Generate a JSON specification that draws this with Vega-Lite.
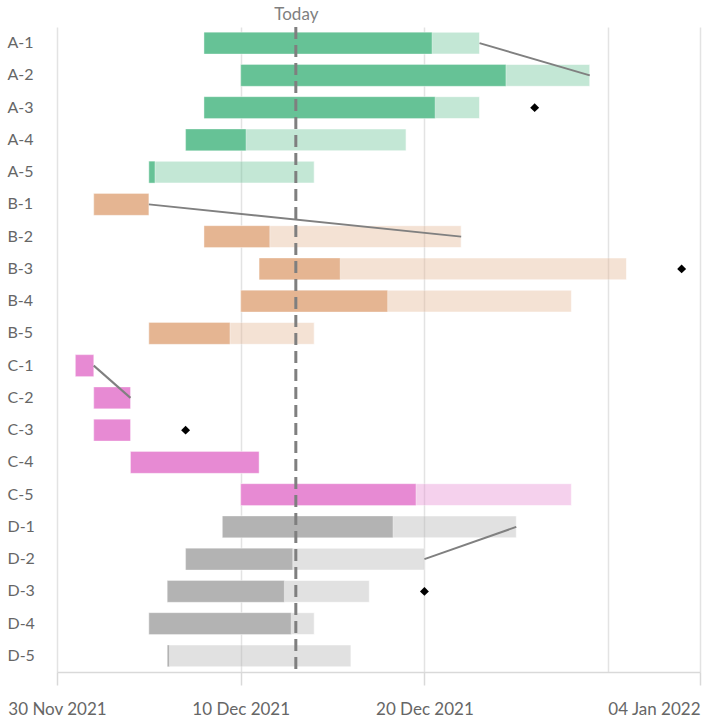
{
  "$schema": "https://vega.github.io/schema/vega-lite/v6.json",
  "autosize": {"type": "none"},
  "width": 643,
  "height": 645,
  "padding": {"left": 57, "top": 27, "right": 7, "bottom": 48},
  "background": "white",
  "config": {"font": "Lato", "view": {"stroke": null}},
  "datasets": {
    "tasks": [
      {"task": "A-1", "grp": "A", "start": "2021-12-08T00:00", "end": "2021-12-23T00:00", "prog": "2021-12-20T10:00"},
      {"task": "A-2", "grp": "A", "start": "2021-12-10T00:00", "end": "2021-12-29T00:00", "prog": "2021-12-24T10:30"},
      {"task": "A-3", "grp": "A", "start": "2021-12-08T00:00", "end": "2021-12-23T00:00", "prog": "2021-12-20T14:00"},
      {"task": "A-4", "grp": "A", "start": "2021-12-07T00:00", "end": "2021-12-19T00:00", "prog": "2021-12-10T07:00"},
      {"task": "A-5", "grp": "A", "start": "2021-12-05T00:00", "end": "2021-12-14T00:00", "prog": "2021-12-05T08:00"},
      {"task": "B-1", "grp": "B", "start": "2021-12-02T00:00", "end": "2021-12-05T00:00", "prog": "2021-12-05T00:00"},
      {"task": "B-2", "grp": "B", "start": "2021-12-08T00:00", "end": "2021-12-22T00:00", "prog": "2021-12-11T14:00"},
      {"task": "B-3", "grp": "B", "start": "2021-12-11T00:00", "end": "2021-12-31T00:00", "prog": "2021-12-15T10:00"},
      {"task": "B-4", "grp": "B", "start": "2021-12-10T00:00", "end": "2021-12-28T00:00", "prog": "2021-12-18T00:00"},
      {"task": "B-5", "grp": "B", "start": "2021-12-05T00:00", "end": "2021-12-14T00:00", "prog": "2021-12-09T10:00"},
      {"task": "C-1", "grp": "C", "start": "2021-12-01T00:00", "end": "2021-12-02T00:00", "prog": "2021-12-02T00:00"},
      {"task": "C-2", "grp": "C", "start": "2021-12-02T00:00", "end": "2021-12-04T00:00", "prog": "2021-12-04T00:00"},
      {"task": "C-3", "grp": "C", "start": "2021-12-02T00:00", "end": "2021-12-04T00:00", "prog": "2021-12-04T00:00"},
      {"task": "C-4", "grp": "C", "start": "2021-12-04T00:00", "end": "2021-12-11T00:00", "prog": "2021-12-11T00:00"},
      {"task": "C-5", "grp": "C", "start": "2021-12-10T00:00", "end": "2021-12-28T00:00", "prog": "2021-12-19T13:00"},
      {"task": "D-1", "grp": "D", "start": "2021-12-09T00:00", "end": "2021-12-25T00:00", "prog": "2021-12-18T07:00"},
      {"task": "D-2", "grp": "D", "start": "2021-12-07T00:00", "end": "2021-12-20T00:00", "prog": "2021-12-12T20:00"},
      {"task": "D-3", "grp": "D", "start": "2021-12-06T00:00", "end": "2021-12-17T00:00", "prog": "2021-12-12T09:00"},
      {"task": "D-4", "grp": "D", "start": "2021-12-05T00:00", "end": "2021-12-14T00:00", "prog": "2021-12-12T18:00"},
      {"task": "D-5", "grp": "D", "start": "2021-12-06T00:00", "end": "2021-12-16T00:00", "prog": "2021-12-06T03:00"}
    ],
    "milestones": [
      {"task": "A-3", "date": "2021-12-26T00:00"},
      {"task": "B-3", "date": "2022-01-03T00:00"},
      {"task": "C-3", "date": "2021-12-07T00:00"},
      {"task": "D-3", "date": "2021-12-20T00:00"}
    ],
    "deps": [
      {"dep": "A", "task": "A-1", "date": "2021-12-23T00:00"},
      {"dep": "A", "task": "A-2", "date": "2021-12-29T00:00"},
      {"dep": "B", "task": "B-1", "date": "2021-12-05T00:00"},
      {"dep": "B", "task": "B-2", "date": "2021-12-22T00:00"},
      {"dep": "C", "task": "C-1", "date": "2021-12-02T00:00"},
      {"dep": "C", "task": "C-2", "date": "2021-12-04T00:00"},
      {"dep": "D", "task": "D-1", "date": "2021-12-25T00:00"},
      {"dep": "D", "task": "D-2", "date": "2021-12-20T00:00"}
    ],
    "today": [{"date": "2021-12-13T00:00", "label": "Today"}]
  },
  "resolve": {"axis": {"x": "independent"}},
  "layer": [
    {
      "data": {"name": "tasks"},
      "mark": {"type": "bar", "opacity": 0.39, "stroke": "white", "strokeWidth": 1, "strokeOpacity": 0.6},
      "encoding": {
        "y": {
          "field": "task",
          "type": "nominal",
          "title": null,
          "scale": {
            "domain": ["A-1","A-2","A-3","A-4","A-5","B-1","B-2","B-3","B-4","B-5","C-1","C-2","C-3","C-4","C-5","D-1","D-2","D-3","D-4","D-5"],
            "paddingInner": 0.32,
            "paddingOuter": 0.16
          },
          "axis": {
            "ticks": false,
            "tickSize": 0,
            "domain": false,
            "grid": false,
            "labelAlign": "left",
            "labelPadding": 50,
            "labelFont": "Lato",
            "labelFontSize": 16,
            "labelColor": "#666666"
          }
        },
        "x": {
          "field": "start",
          "type": "temporal",
          "title": null,
          "scale": {
            "domain": [{"year": 2021, "month": "nov", "date": 30}, {"year": 2022, "month": "jan", "date": 4}]
          },
          "axis": {
            "orient": "bottom",
            "values": [
              {"year": 2021, "month": "nov", "date": 30},
              {"year": 2021, "month": "dec", "date": 10},
              {"year": 2021, "month": "dec", "date": 20},
              {"year": 2021, "month": "dec", "date": 30},
              {"year": 2022, "month": "jan", "date": 4}
            ],
            "format": "%d %b %Y",
            "labelExpr": "(month(datum.value) == 11 && date(datum.value) == 30) ? '' : datum.label",
            "labelAlign": {"condition": {"test": "year(datum.value) == 2022", "value": "right"}, "value": "center"},
            "labelFont": "Lato",
            "labelFontSize": 17,
            "labelColor": "#666666",
            "labelPadding": 16,
            "labelOverlap": false,
            "labelFlush": false,
            "tickSize": 13,
            "tickColor": "#d9d9d9",
            "tickWidth": 1.5,
            "tickOpacity": {"condition": {"test": "month(datum.value) == 11 && date(datum.value) == 30", "value": 0}, "value": 1},
            "domainColor": "#d9d9d9",
            "domainWidth": 1.5,
            "grid": true,
            "gridColor": "#e3e3e3",
            "gridWidth": 1.5
          }
        },
        "x2": {"field": "end"},
        "color": {
          "field": "grp",
          "type": "nominal",
          "legend": null,
          "scale": {"domain": ["A", "B", "C", "D"], "range": ["#66c296", "#e5b592", "#e78ad3", "#b3b3b3"]}
        }
      }
    },
    {
      "data": {"name": "tasks"},
      "mark": {"type": "bar", "opacity": 1, "stroke": "white", "strokeWidth": 1, "strokeOpacity": 0.4},
      "encoding": {
        "y": {"field": "task", "type": "nominal"},
        "x": {"field": "start", "type": "temporal", "axis": null},
        "x2": {"field": "prog"},
        "color": {"field": "grp", "type": "nominal", "legend": null}
      }
    },
    {
      "data": {"name": "deps"},
      "mark": {"type": "line", "color": "#808080", "strokeWidth": 2},
      "encoding": {
        "y": {"field": "task", "type": "nominal"},
        "x": {"field": "date", "type": "temporal", "axis": null},
        "detail": {"field": "dep", "type": "nominal"}
      }
    },
    {
      "data": {"name": "milestones"},
      "mark": {"type": "point", "shape": "diamond", "filled": true, "color": "black", "opacity": 1, "size": 80},
      "encoding": {
        "y": {"field": "task", "type": "nominal"},
        "x": {"field": "date", "type": "temporal", "axis": null}
      }
    },
    {
      "data": {"name": "today"},
      "mark": {"type": "rule", "color": "#7f7f7f", "strokeWidth": 3, "strokeDash": [12, 6]},
      "encoding": {
        "x": {
          "field": "date",
          "type": "temporal",
          "title": null,
          "axis": {
            "orient": "top",
            "title": null,
            "values": [{"year": 2021, "month": "dec", "date": 13}],
            "labelExpr": "'Today'",
            "ticks": false,
            "tickSize": 0,
            "domain": false,
            "grid": false,
            "labelFont": "Lato",
            "labelFontSize": 17,
            "labelColor": "#7f7f7f",
            "labelPadding": 4
          }
        }
      }
    }
  ]
}
